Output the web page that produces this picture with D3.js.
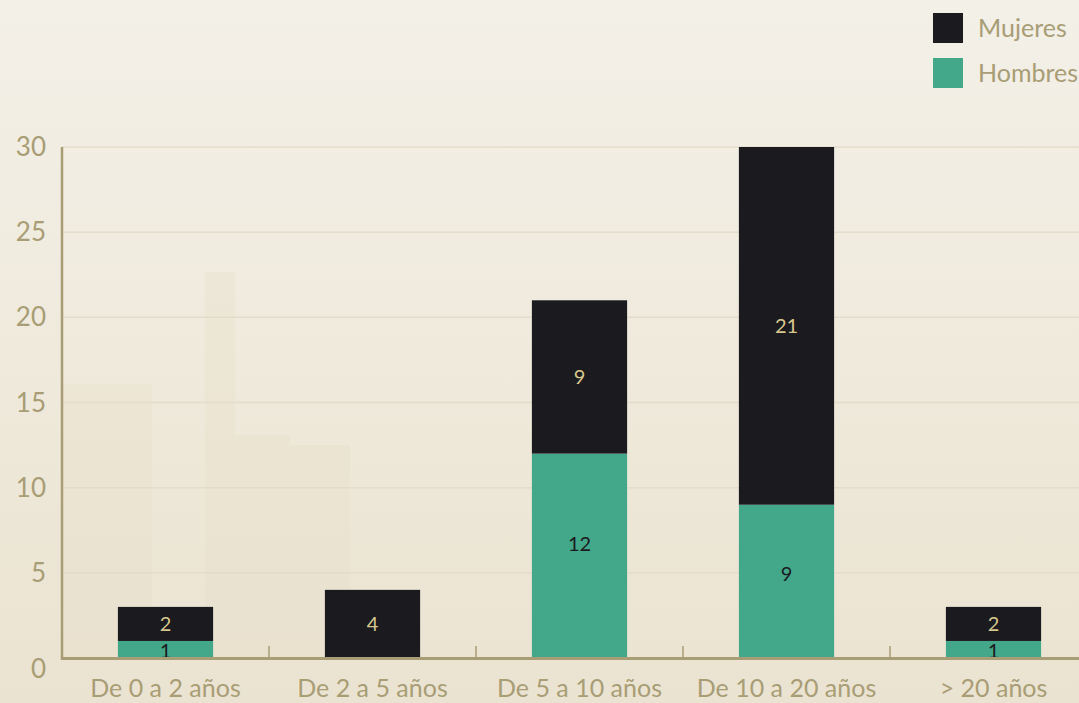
<!DOCTYPE html>
<html><head><meta charset="utf-8">
<script src="https://cdn.jsdelivr.net/npm/d3@7"></script>
<style>
html,body{margin:0;padding:0;overflow:hidden;}
svg{display:block;}
</style>
</head><body>
<svg id="chart" width="1079" height="703"></svg>
<script>
const categories = ["De 0 a 2 años", "De 2 a 5 años", "De 5 a 10 años", "De 10 a 20 años", "> 20 años"];
const hombres = [1, 0, 12, 9, 1];
const mujeres = [2, 4, 9, 21, 2];
const yTicks = [0, 5, 10, 15, 20, 25, 30];
const seriesNames = ["Mujeres", "Hombres"];

const W = 1079, H = 703;
const svg = d3.select("#chart");
const font = "Lato, 'Fira Sans', 'Open Sans', sans-serif";
const tan = "#a89d75";
const colBlack = "#1b1a1e", colTeal = "#43a88a";

// background
const defs = svg.append("defs");
const g0 = defs.append("linearGradient").attr("id","bg").attr("x1",0).attr("y1",0).attr("x2",0).attr("y2",1);
g0.append("stop").attr("offset","0%").attr("stop-color","#f3f0e8");
g0.append("stop").attr("offset","50%").attr("stop-color","#efeadc");
g0.append("stop").attr("offset","100%").attr("stop-color","#ebe3d1");
svg.append("rect").attr("width",W).attr("height",H).attr("fill","url(#bg)");
// faint silhouettes
const sil = svg.append("g").attr("fill","#e8dec8").attr("opacity",0.3);
sil.append("rect").attr("x",62).attr("y",384).attr("width",90).attr("height",276);
sil.append("rect").attr("x",205).attr("y",272).attr("width",30).attr("height",388);
sil.append("rect").attr("x",235).attr("y",435).attr("width",55).attr("height",225);
sil.append("rect").attr("x",290).attr("y",445).attr("width",60).attr("height",215);

const x = d3.scaleBand().domain(categories).range([62, 1097]).paddingInner(0.54).paddingOuter(0.27);
const xb = d3.scaleBand().domain(categories).range([62, 1097]);
const y = d3.scaleLinear().domain([0, 30]).range([658, 147]);

// grid
svg.append("g").selectAll("line").data(yTicks.filter(d=>d>0)).join("line")
  .attr("x1",62).attr("x2",W).attr("y1",d=>y(d)).attr("y2",d=>y(d))
  .attr("stroke","#e4dccb").attr("stroke-width",1.5);

// bars
const stackData = categories.map((c,i)=>({cat:c, Hombres:hombres[i], Mujeres:mujeres[i]}));
const stack = d3.stack().keys(["Hombres","Mujeres"])(stackData);
const colors = {Hombres: colTeal, Mujeres: colBlack};
const labelColors = {Hombres: "#1b1a1e", Mujeres: "#d8c88e"};
stack.forEach(s=>{
  const g = svg.append("g");
  g.selectAll("rect").data(s).join("rect")
    .attr("x", d=>x(d.data.cat)).attr("width", x.bandwidth())
    .attr("y", d=>y(d[1]) - (s.key==="Hombres" && d[1]===d[0] ? 1.5 : 0))
    .attr("height", d=>Math.max(s.key==="Hombres"?1.5:0, y(d[0])-y(d[1])))
    .attr("fill", colors[s.key]);
  g.selectAll("text").data(s.filter(d=>d[1]-d[0]>0)).join("text")
    .attr("x", d=>x(d.data.cat)+x.bandwidth()/2)
    .attr("y", d=> s.key==="Hombres" ? y((d[1]-d[0])*0.57 - 0.16) : y((d[0]+d[1])/2))
    .attr("dy","0.36em").attr("text-anchor","middle")
    .attr("font-family",font).attr("font-size",20)
    .attr("fill", labelColors[s.key])
    .text(d=>d[1]-d[0]);
});

// axes
const axisG = svg.append("g");
axisG.append("line").attr("x1",62).attr("x2",W).attr("y1",658.5).attr("y2",658.5).attr("stroke",tan).attr("stroke-width",3);
axisG.append("line").attr("x1",62).attr("x2",62).attr("y1",147).attr("y2",660).attr("stroke",tan).attr("stroke-width",2.5);
axisG.selectAll(".tk").data(categories).join("line")
  .attr("x1",d=>xb(d)).attr("x2",d=>xb(d)).attr("y1",646).attr("y2",658)
  .attr("stroke",tan).attr("stroke-width",1.5);
axisG.selectAll(".xl").data(categories).join("text")
  .attr("x",d=>xb(d)+xb.bandwidth()/2).attr("y",697)
  .attr("text-anchor","middle").attr("font-family",font).attr("font-size",25)
  .attr("fill",tan).text(d=>d);
axisG.selectAll(".yl").data(yTicks).join("text")
  .attr("x",46).attr("y",d=>y(d)+9+ (d===0?11:0))
  .attr("text-anchor","end").attr("font-family",font).attr("font-size",26)
  .attr("fill",tan).text(d=>d);

// legend
const leg = svg.append("g");
seriesNames.forEach((n,i)=>{
  leg.append("rect").attr("x",933).attr("y",13+i*45).attr("width",30).attr("height",30)
    .attr("fill", n==="Mujeres"?colBlack:colTeal);
  leg.append("text").attr("x",978).attr("y",37+i*45)
    .attr("font-family",font).attr("font-size",25).attr("fill",tan).text(n);
});
</script>
</body></html>
